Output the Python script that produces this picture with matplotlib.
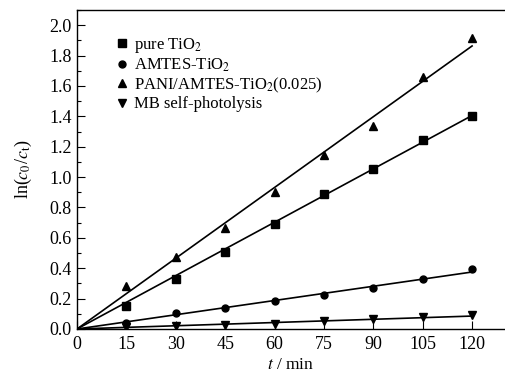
import numpy as np
import matplotlib
matplotlib.use("Agg")
import matplotlib.pyplot as plt
from matplotlib.ticker import MultipleLocator, FormatStrFormatter

# data
t = [15, 30, 45, 60, 75, 90, 105, 120]
pure_tio2 = [0.152, 0.328, 0.510, 0.690, 0.888, 1.055, 1.247, 1.405]
amtes_tio2 = [0.037, 0.103, 0.136, 0.187, 0.222, 0.268, 0.328, 0.394]
pani_amtes = [0.284, 0.473, 0.664, 0.899, 1.143, 1.339, 1.658, 1.917]
mb_self = [0.012, 0.018, 0.026, 0.035, 0.050, 0.066, 0.077, 0.090]

series = [
    ("pure TiO$_2$", pure_tio2, "s"),
    ("AMTES-TiO$_2$", amtes_tio2, "o"),
    ("PANI/AMTES-TiO$_2$(0.025)", pani_amtes, "^"),
    ("MB self-photolysis", mb_self, "v"),
]

plt.rcParams["font.family"] = ["Liberation Serif", "DejaVu Serif"]
plt.rcParams["mathtext.fontset"] = "stix"

fig = plt.figure(figsize=(5.05, 3.75), dpi=100)
ax = fig.add_axes([0.1525, 0.1227, 0.8475, 0.8507])

x = np.array(t, dtype=float)
xx = np.array([0.0, 120.0])
for label, vals, mk in series:
    y = np.array(vals)
    k = np.sum(x * y) / np.sum(x * x)  # linear fit through the origin
    ax.plot(xx, k * xx, color="black", lw=1.2)
    ax.plot(x, y, linestyle="none", marker=mk, color="black",
            markersize=5.5 if mk != "o" else 5, label=label)

ax.set_xlim(0, 130)
ax.set_ylim(0, 2.1)
ax.spines["right"].set_visible(False)
ax.xaxis.set_major_locator(MultipleLocator(15))
ax.yaxis.set_major_locator(MultipleLocator(0.2))
ax.yaxis.set_minor_locator(MultipleLocator(0.1))
ax.yaxis.set_major_formatter(FormatStrFormatter("%.1f"))
ax.tick_params(which="both", direction="in", labelsize=13, width=0.8)
ax.tick_params(which="major", length=6)
ax.tick_params(which="minor", length=3)
ax.tick_params(axis="x", pad=5)
ax.tick_params(axis="y", pad=4)
for s in ax.spines.values():
    s.set_linewidth(1.0)

ax.set_xlabel("$t$ / min", fontsize=12.5, labelpad=3)
ax.set_ylabel("ln($c_0$/$c_\\mathrm{t}$)", fontsize=13, labelpad=11)

ax.legend(loc="upper left", frameon=False, fontsize=12, handlelength=0.8,
          handletextpad=0.3, labelspacing=0.1, borderaxespad=0.0,
          bbox_to_anchor=(0.075, 0.94))

fig.savefig("out.png", dpi=100)
